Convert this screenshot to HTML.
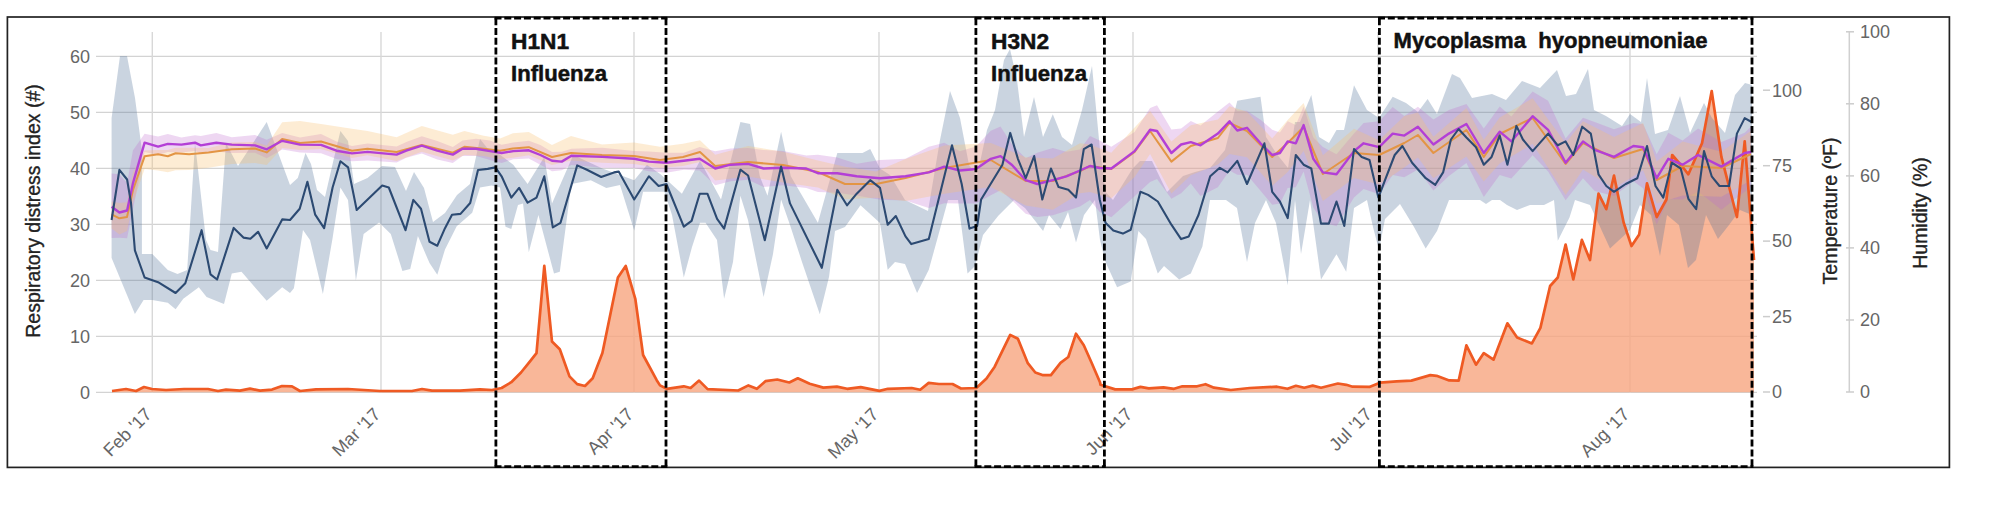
<!DOCTYPE html>
<html><head><meta charset="utf-8"><style>
html,body{margin:0;padding:0;background:#fff;width:2000px;height:516px;overflow:hidden;}
svg{display:block;font-family:"Liberation Sans",sans-serif;}
</style></head><body>
<svg width="2000" height="516" viewBox="0 0 2000 516">
<rect x="0" y="0" width="2000" height="516" fill="#fff"/>
<line x1="96" y1="392.3" x2="1757" y2="392.3" stroke="#d3d3d3" stroke-width="1.2"/>
<line x1="96" y1="336.3" x2="1757" y2="336.3" stroke="#d3d3d3" stroke-width="1.2"/>
<line x1="96" y1="280.3" x2="1757" y2="280.3" stroke="#d3d3d3" stroke-width="1.2"/>
<line x1="96" y1="224.3" x2="1757" y2="224.3" stroke="#d3d3d3" stroke-width="1.2"/>
<line x1="96" y1="168.3" x2="1757" y2="168.3" stroke="#d3d3d3" stroke-width="1.2"/>
<line x1="96" y1="112.3" x2="1757" y2="112.3" stroke="#d3d3d3" stroke-width="1.2"/>
<line x1="96" y1="56.3" x2="1757" y2="56.3" stroke="#d3d3d3" stroke-width="1.2"/>
<line x1="152.3" y1="32" x2="152.3" y2="393" stroke="#d8d8d8" stroke-width="1.4"/>
<line x1="381" y1="32" x2="381" y2="393" stroke="#d8d8d8" stroke-width="1.4"/>
<line x1="634" y1="32" x2="634" y2="393" stroke="#d8d8d8" stroke-width="1.4"/>
<line x1="879" y1="32" x2="879" y2="393" stroke="#d8d8d8" stroke-width="1.4"/>
<line x1="1133" y1="32" x2="1133" y2="393" stroke="#d8d8d8" stroke-width="1.4"/>
<line x1="1378" y1="32" x2="1378" y2="393" stroke="#d8d8d8" stroke-width="1.4"/>
<line x1="1630" y1="32" x2="1630" y2="393" stroke="#d8d8d8" stroke-width="1.4"/>
<polygon points="112.0,391.0 126.0,389.0 136.0,391.0 144.0,387.0 152.0,389.0 166.0,390.0 184.0,389.0 208.0,389.0 218.0,391.0 226.0,389.6 240.0,390.6 250.0,388.6 260.0,390.6 272.0,389.6 282.0,386.0 292.0,386.4 300.0,391.0 316.0,389.4 348.0,389.0 380.0,391.0 412.0,391.0 422.0,389.0 432.0,390.6 460.0,390.6 480.0,389.4 492.0,390.0 501.6,388.0 511.3,382.2 521.0,372.5 528.8,362.8 536.5,353.1 544.3,265.9 552.0,341.5 559.8,349.2 569.5,376.4 577.2,384.1 585.0,386.0 592.7,378.3 602.4,353.1 617.9,277.5 625.7,265.9 635.3,298.8 643.1,355.0 656.7,380.2 660.0,385.4 666.8,388.8 683.8,386.3 690.6,388.0 699.1,380.6 707.6,389.1 738.2,390.5 748.4,385.4 756.9,388.8 765.4,381.2 777.3,379.5 789.3,382.5 797.8,378.3 809.7,383.7 823.3,387.6 836.9,386.6 847.1,388.8 860.7,387.1 879.4,390.9 887.9,388.8 911.7,388.0 920.2,389.7 928.7,382.9 938.9,384.0 952.5,384.0 961.0,388.5 976.3,388.0 986.5,378.6 994.7,366.7 1010.2,334.9 1017.9,338.8 1027.6,362.8 1035.3,372.5 1043.1,375.2 1050.9,375.2 1060.5,362.8 1068.3,357.0 1076.0,333.7 1083.8,345.3 1091.6,362.8 1100.0,382.2 1100.5,384.8 1115.2,389.4 1132.0,389.4 1140.4,386.9 1148.8,388.4 1163.5,387.3 1174.0,388.8 1182.4,386.3 1197.1,386.3 1205.5,384.2 1214.0,387.7 1230.8,390.0 1249.7,388.0 1277.0,386.7 1287.5,388.8 1295.9,385.8 1304.3,387.7 1312.7,385.6 1321.1,387.7 1337.9,383.5 1346.3,384.8 1352.6,386.7 1369.4,386.9 1379.9,382.7 1396.7,381.4 1411.4,380.6 1430.3,375.1 1436.6,375.8 1449.2,380.4 1458.7,380.6 1466.4,345.3 1476.0,364.7 1483.8,353.1 1493.5,359.7 1507.4,323.3 1517.1,337.6 1531.9,343.4 1540.4,327.9 1550.1,286.0 1557.8,277.5 1565.6,244.6 1573.3,279.5 1581.9,239.9 1590.0,260.0 1598.5,193.7 1606.3,209.2 1614.0,175.5 1623.7,222.8 1631.5,246.0 1639.2,234.4 1647.0,183.3 1656.7,217.0 1666.4,199.5 1672.2,155.0 1683.8,168.5 1688.4,174.3 1702.0,143.3 1711.7,91.0 1721.4,156.9 1736.9,217.0 1744.7,141.4 1754.0,260.0 1754.0,392.3 112.0,392.3" fill="#f8a57f" fill-opacity="0.8"/>
<polygon points="111.6,240.0 111.6,118.0 120.0,56.0 127.0,56.0 135.0,98.0 141.9,150.0 141.9,254.0 152.3,254.0 167.8,270.0 177.5,274.0 187.2,270.0 195.0,143.0 206.0,240.0 210.5,250.0 218.0,252.0 226.0,143.0 238.0,166.0 266.7,122.0 290.0,185.0 297.8,178.0 305.5,153.0 311.0,164.0 317.0,190.0 325.0,197.0 332.6,164.0 340.4,131.0 348.0,141.0 354.0,184.0 367.5,178.0 382.0,166.0 395.0,167.0 406.0,191.0 414.0,172.0 424.0,188.0 433.0,222.0 445.0,213.0 457.0,195.0 470.0,184.0 480.0,139.0 488.0,149.0 495.0,151.0 513.3,164.7 527.6,184.0 544.3,156.9 552.0,203.4 573.3,155.0 602.4,168.5 634.2,180.2 647.0,164.7 660.5,174.3 681.9,193.7 700.0,160.8 721.0,199.5 740.4,122.0 750.1,124.0 759.8,176.3 767.5,195.7 781.1,131.7 790.8,176.3 817.9,222.8 837.3,153.0 862.5,153.0 870.2,149.1 880.0,168.5 890.0,175.0 905.0,200.0 928.0,211.0 940.0,140.0 950.0,91.0 960.0,118.0 969.0,165.0 977.0,176.0 987.0,130.0 995.0,110.0 1004.0,60.0 1010.0,49.0 1017.0,80.0 1024.0,137.0 1034.0,97.0 1043.0,137.0 1052.8,114.3 1062.0,137.0 1072.0,145.0 1082.0,110.0 1092.0,66.0 1100.0,150.0 1105.5,192.0 1113.0,200.0 1132.6,168.5 1140.0,161.0 1152.0,161.0 1167.0,192.0 1183.0,176.0 1195.0,172.0 1210.0,168.0 1225.0,150.0 1237.3,100.7 1260.5,96.8 1266.0,137.0 1276.0,153.0 1288.0,168.0 1295.0,122.0 1300.0,122.0 1311.3,94.9 1319.0,137.0 1329.0,143.0 1336.5,130.0 1344.0,130.0 1354.0,85.2 1367.0,110.0 1379.0,118.0 1392.7,96.8 1406.0,103.0 1418.0,112.0 1427.6,99.0 1437.0,114.0 1452.0,74.0 1460.0,78.0 1472.0,98.0 1492.0,94.0 1506.0,100.0 1522.0,81.0 1540.0,88.0 1557.0,70.0 1566.0,96.0 1576.0,94.0 1588.0,69.0 1594.0,110.0 1606.0,116.0 1622.0,126.0 1630.0,114.0 1641.0,122.0 1647.0,78.0 1655.0,134.0 1668.0,130.0 1680.0,96.0 1690.0,133.0 1704.0,103.0 1712.0,118.0 1725.0,133.0 1735.0,95.0 1745.0,83.0 1752.0,85.0 1752.0,215.0 1740.0,210.0 1729.0,225.0 1718.0,239.0 1706.0,215.0 1696.0,260.0 1688.0,268.0 1679.0,225.0 1667.0,215.0 1660.0,256.0 1651.0,215.0 1640.0,205.0 1630.0,230.0 1610.0,248.4 1590.0,205.0 1575.0,200.0 1569.5,217.4 1557.8,240.7 1554.0,200.0 1544.0,205.0 1530.0,205.0 1517.0,210.0 1507.0,205.0 1500.0,200.0 1492.0,200.0 1486.0,204.0 1480.0,200.0 1449.0,200.0 1437.0,231.0 1425.7,248.4 1414.0,227.0 1400.0,204.0 1385.0,219.0 1379.0,250.0 1373.0,227.0 1367.0,200.0 1354.0,208.0 1346.2,271.7 1336.5,254.3 1321.0,279.5 1310.0,200.0 1301.0,254.0 1295.0,200.0 1287.7,285.3 1276.0,223.0 1266.0,200.0 1255.0,223.0 1247.0,262.0 1237.0,208.0 1226.0,200.0 1210.0,200.0 1202.4,246.5 1190.8,273.6 1179.1,279.5 1164.0,266.0 1157.8,273.6 1146.0,239.0 1138.4,231.0 1130.7,281.4 1117.1,287.2 1105.5,262.0 1100.0,240.0 1095.0,200.0 1084.0,215.0 1076.0,242.6 1068.0,212.0 1060.5,229.0 1049.0,215.0 1043.1,231.0 1025.0,208.0 1014.0,200.0 998.5,215.5 983.0,234.9 975.0,266.0 967.5,273.6 958.0,200.0 948.0,200.0 938.4,234.9 928.8,269.8 917.1,293.0 905.0,264.0 895.0,262.0 887.7,269.8 880.0,223.0 860.5,205.3 845.0,227.0 835.0,231.0 829.0,277.0 819.8,314.3 802.0,262.0 790.0,225.0 781.1,199.5 773.0,254.0 763.6,296.9 748.0,220.0 740.4,195.7 733.0,262.0 724.1,298.8 717.0,240.0 705.5,222.8 700.0,222.8 692.0,247.0 683.8,277.5 672.0,215.0 664.4,191.8 643.1,191.8 634.2,230.5 620.0,185.0 606.3,188.0 590.8,180.2 571.4,184.0 559.8,271.7 554.0,273.6 538.4,215.0 528.8,252.3 523.0,203.4 518.0,205.0 511.3,229.0 505.5,226.7 500.0,187.5 491.5,185.6 480.0,187.5 472.2,212.7 456.7,226.3 445.0,249.5 437.3,274.7 429.5,263.1 417.9,236.0 410.2,269.0 402.4,270.9 390.8,234.0 379.1,222.4 363.6,234.0 355.9,280.5 348.0,200.0 340.4,187.5 332.6,238.0 322.9,294.0 310.0,240.0 303.0,230.0 293.9,288.3 290.0,293.0 282.2,287.2 266.7,300.8 241.5,271.7 231.8,273.6 224.0,303.9 206.6,296.9 198.8,287.2 183.3,298.8 175.6,309.3 167.8,302.7 152.3,300.0 143.6,300.0 134.9,314.0 111.6,258.0 111.6,240.0" fill="#4f6f99" fill-opacity="0.3"/>
<polygon points="111.6,173.5 119.4,174.2 127.1,183.1 132.9,150.5 144.6,133.7 158.1,136.6 167.8,134.0 181.4,137.4 195.0,135.2 200.8,135.9 216.3,133.1 231.8,137.2 255.0,135.1 266.7,139.8 282.2,132.9 300.0,137.4 321.0,134.1 336.5,141.4 352.0,146.0 367.5,143.5 396.6,146.5 406.3,142.0 421.8,136.2 437.3,140.9 452.8,146.9 462.5,140.5 476.0,138.7 490.0,140.5 501.6,144.8 513.3,142.6 528.8,140.8 540.4,144.9 552.0,152.0 561.7,151.8 571.4,148.7 602.4,147.8 634.2,151.1 648.9,151.4 666.4,152.8 683.8,152.7 699.7,147.0 715.2,151.2 730.7,148.6 748.1,148.1 763.6,149.9 783.0,150.9 806.3,155.5 817.9,154.7 837.3,157.6 856.7,163.8 880.0,159.9 905.5,158.7 928.8,146.7 944.3,142.7 959.8,151.2 976.0,146.5 990.8,130.8 1000.5,126.5 1012.0,144.5 1025.7,158.2 1037.3,152.7 1052.8,148.0 1066.4,151.7 1080.0,149.4 1090.0,136.1 1099.7,140.6 1111.3,146.7 1134.6,132.0 1150.1,108.1 1157.0,105.2 1171.4,129.6 1181.1,128.5 1190.8,121.0 1200.5,125.4 1217.9,111.5 1229.5,102.6 1237.3,110.8 1247.0,110.8 1260.5,119.7 1272.2,129.7 1279.9,132.5 1287.7,121.3 1295.8,125.1 1303.6,106.4 1313.3,137.6 1322.9,147.1 1336.5,154.2 1354.0,133.6 1363.6,123.1 1379.1,121.2 1392.7,107.1 1404.3,116.1 1417.9,106.8 1433.4,119.6 1448.9,110.0 1466.4,103.9 1483.8,128.5 1499.7,106.4 1511.3,116.5 1532.6,91.5 1548.1,100.7 1565.6,138.6 1583.0,117.7 1594.7,121.9 1614.0,129.2 1633.4,122.9 1643.1,124.1 1656.7,154.2 1668.3,132.7 1682.6,140.6 1698.1,128.6 1721.4,142.1 1744.7,132.7 1751.0,126.6 1751.0,187.2 1744.7,191.7 1721.4,209.8 1698.1,191.6 1682.6,199.5 1668.3,199.3 1656.7,224.6 1643.1,188.3 1633.4,181.3 1614.0,196.0 1594.7,190.9 1583.0,178.2 1565.6,200.3 1548.1,171.4 1532.6,155.3 1511.3,178.5 1499.7,175.0 1483.8,197.1 1466.4,163.0 1448.9,175.9 1433.4,190.6 1417.9,169.5 1404.3,177.3 1392.7,175.1 1379.1,194.3 1363.6,189.0 1354.0,197.6 1336.5,226.2 1322.9,222.2 1313.3,207.4 1303.6,171.6 1295.8,187.3 1287.7,188.1 1279.9,203.6 1272.2,204.7 1260.5,190.7 1247.0,174.8 1237.3,174.8 1229.5,170.4 1217.9,187.3 1200.5,195.9 1190.8,183.5 1181.1,193.2 1171.4,198.8 1157.0,179.1 1150.1,181.9 1134.6,196.2 1111.3,217.3 1099.7,211.9 1090.0,200.0 1080.0,206.6 1066.4,211.0 1052.8,215.3 1037.3,217.1 1025.7,213.7 1012.0,200.2 1000.5,190.2 990.8,195.2 976.0,203.6 959.8,203.6 944.3,203.2 928.8,208.0 905.5,200.6 880.0,199.7 856.7,195.5 837.3,192.7 817.9,192.0 806.3,187.9 783.0,185.3 763.6,187.0 748.1,179.8 730.7,181.2 715.2,185.2 699.7,170.6 683.8,169.8 666.4,172.7 648.9,171.2 634.2,167.9 602.4,167.7 571.4,165.1 561.7,170.2 552.0,171.3 540.4,164.7 528.8,158.5 513.3,159.2 501.6,163.0 490.0,160.1 476.0,156.1 462.5,155.9 452.8,162.9 437.3,159.6 421.8,153.6 406.3,157.8 396.6,162.6 367.5,160.5 352.0,161.2 336.5,158.9 321.0,153.2 300.0,152.5 282.2,149.5 266.7,158.3 255.0,152.8 231.8,152.9 216.3,151.6 200.8,153.5 195.0,150.9 181.4,152.6 167.8,152.0 158.1,155.1 144.6,152.0 132.9,209.5 127.1,238.3 119.4,237.8 111.6,237.9" fill="#c06ad0" fill-opacity="0.27"/>
<polygon points="111.6,201.5 119.4,203.1 127.0,202.2 133.0,171.9 144.6,150.4 158.1,150.1 167.8,149.9 175.6,147.8 189.1,147.8 208.5,148.0 231.8,142.5 255.0,142.1 266.7,145.6 282.2,122.3 300.0,121.1 321.0,124.0 352.0,128.8 367.5,130.9 396.6,137.3 421.8,126.0 452.8,134.7 464.4,131.0 483.8,135.8 500.0,138.4 513.0,133.3 528.8,132.0 552.0,145.1 571.0,135.9 602.0,144.5 634.0,142.4 660.0,146.7 683.0,143.7 700.0,140.2 715.2,154.8 748.0,146.0 783.0,151.7 817.9,160.5 845.0,166.8 876.0,171.6 905.5,159.1 944.3,145.5 990.8,143.1 1025.7,157.2 1052.8,158.5 1080.0,143.2 1090.0,144.5 1111.3,152.7 1134.6,127.5 1150.1,111.1 1171.4,141.6 1190.8,125.3 1217.9,119.4 1229.5,106.2 1247.0,111.7 1272.2,138.4 1287.7,120.1 1303.6,103.0 1322.9,155.2 1354.0,128.7 1379.1,140.3 1404.3,115.9 1417.9,112.6 1433.4,136.8 1466.4,108.0 1483.8,139.8 1499.7,117.6 1532.6,98.3 1565.6,143.1 1583.0,121.3 1614.0,136.9 1643.1,123.0 1656.7,161.4 1682.6,141.5 1721.4,151.7 1751.0,130.8 1751.0,180.2 1721.4,196.7 1682.6,195.4 1656.7,203.4 1643.1,170.2 1614.0,188.3 1583.0,169.5 1565.6,194.9 1532.6,143.7 1499.7,163.6 1483.8,181.6 1466.4,156.4 1433.4,178.3 1417.9,157.5 1404.3,167.6 1379.1,184.5 1354.0,178.1 1322.9,201.0 1303.6,150.9 1287.7,172.0 1272.2,185.7 1247.0,157.2 1229.5,154.1 1217.9,164.5 1190.8,175.3 1171.4,193.4 1150.1,154.1 1134.6,177.0 1111.3,198.3 1090.0,192.0 1080.0,193.3 1052.8,209.7 1025.7,205.6 990.8,187.0 944.3,193.7 905.5,201.0 876.0,197.7 845.0,199.3 817.9,187.6 783.0,182.6 748.0,176.4 715.2,180.5 700.0,162.0 683.0,166.0 660.0,167.9 634.0,164.1 602.0,162.8 571.0,160.5 552.0,165.0 528.8,155.3 513.0,157.7 500.0,159.3 483.8,155.9 464.4,155.1 452.8,160.5 421.8,151.7 396.6,161.1 367.5,155.2 352.0,158.0 321.0,149.1 300.0,149.9 282.2,148.0 266.7,165.1 255.0,162.9 231.8,164.1 208.5,167.8 189.1,170.1 175.6,170.3 167.8,172.3 158.1,170.4 144.6,168.9 133.0,202.8 127.0,230.9 119.4,234.5 111.6,228.5" fill="#f7c070" fill-opacity="0.3"/>
<polyline points="112.0,391.0 126.0,389.0 136.0,391.0 144.0,387.0 152.0,389.0 166.0,390.0 184.0,389.0 208.0,389.0 218.0,391.0 226.0,389.6 240.0,390.6 250.0,388.6 260.0,390.6 272.0,389.6 282.0,386.0 292.0,386.4 300.0,391.0 316.0,389.4 348.0,389.0 380.0,391.0 412.0,391.0 422.0,389.0 432.0,390.6 460.0,390.6 480.0,389.4 492.0,390.0 501.6,388.0 511.3,382.2 521.0,372.5 528.8,362.8 536.5,353.1 544.3,265.9 552.0,341.5 559.8,349.2 569.5,376.4 577.2,384.1 585.0,386.0 592.7,378.3 602.4,353.1 617.9,277.5 625.7,265.9 635.3,298.8 643.1,355.0 656.7,380.2 660.0,385.4 666.8,388.8 683.8,386.3 690.6,388.0 699.1,380.6 707.6,389.1 738.2,390.5 748.4,385.4 756.9,388.8 765.4,381.2 777.3,379.5 789.3,382.5 797.8,378.3 809.7,383.7 823.3,387.6 836.9,386.6 847.1,388.8 860.7,387.1 879.4,390.9 887.9,388.8 911.7,388.0 920.2,389.7 928.7,382.9 938.9,384.0 952.5,384.0 961.0,388.5 976.3,388.0 986.5,378.6 994.7,366.7 1010.2,334.9 1017.9,338.8 1027.6,362.8 1035.3,372.5 1043.1,375.2 1050.9,375.2 1060.5,362.8 1068.3,357.0 1076.0,333.7 1083.8,345.3 1091.6,362.8 1100.0,382.2 1100.5,384.8 1115.2,389.4 1132.0,389.4 1140.4,386.9 1148.8,388.4 1163.5,387.3 1174.0,388.8 1182.4,386.3 1197.1,386.3 1205.5,384.2 1214.0,387.7 1230.8,390.0 1249.7,388.0 1277.0,386.7 1287.5,388.8 1295.9,385.8 1304.3,387.7 1312.7,385.6 1321.1,387.7 1337.9,383.5 1346.3,384.8 1352.6,386.7 1369.4,386.9 1379.9,382.7 1396.7,381.4 1411.4,380.6 1430.3,375.1 1436.6,375.8 1449.2,380.4 1458.7,380.6 1466.4,345.3 1476.0,364.7 1483.8,353.1 1493.5,359.7 1507.4,323.3 1517.1,337.6 1531.9,343.4 1540.4,327.9 1550.1,286.0 1557.8,277.5 1565.6,244.6 1573.3,279.5 1581.9,239.9 1590.0,260.0 1598.5,193.7 1606.3,209.2 1614.0,175.5 1623.7,222.8 1631.5,246.0 1639.2,234.4 1647.0,183.3 1656.7,217.0 1666.4,199.5 1672.2,155.0 1683.8,168.5 1688.4,174.3 1702.0,143.3 1711.7,91.0 1721.4,156.9 1736.9,217.0 1744.7,141.4 1754.0,260.0" fill="none" stroke="#ef5a23" stroke-width="2.7" stroke-linejoin="round"/>
<polyline points="111.6,214.4 119.4,218.3 127.0,217.0 133.0,190.0 144.6,156.3 158.1,154.3 167.8,156.3 175.6,153.2 189.1,154.3 208.5,152.4 231.8,149.3 255.0,148.5 266.7,152.4 282.2,139.0 300.0,143.0 321.0,141.5 352.0,150.7 367.5,148.8 396.6,152.0 421.8,144.9 452.8,152.6 464.4,146.8 483.8,148.8 500.0,150.7 513.0,148.4 528.8,147.2 552.0,157.0 571.0,153.0 602.0,155.0 634.0,156.0 660.0,160.0 683.0,157.0 700.0,152.0 715.2,166.0 748.0,162.0 783.0,165.0 817.9,172.0 845.0,184.0 876.0,184.0 905.5,178.0 944.3,168.0 990.8,160.0 1025.7,181.0 1052.8,181.0 1080.0,171.0 1090.0,166.0 1111.3,169.0 1134.6,152.0 1150.1,131.0 1171.4,161.6 1190.8,146.0 1217.9,138.0 1229.5,123.0 1247.0,131.0 1272.2,157.0 1287.7,143.0 1303.6,127.0 1322.9,174.0 1354.0,153.0 1379.1,155.0 1404.3,143.0 1417.9,135.0 1433.4,153.0 1466.4,130.0 1483.8,157.0 1499.7,134.0 1532.6,118.0 1565.6,164.0 1583.0,143.0 1614.0,158.0 1643.1,149.0 1656.7,180.0 1682.6,166.0 1721.4,168.0 1751.0,154.0" fill="none" stroke="#e39545" stroke-width="2" stroke-linejoin="round"/>
<polyline points="111.6,206.7 119.4,212.5 127.1,210.5 132.9,183.4 144.6,142.7 158.1,146.6 167.8,143.9 181.4,144.6 195.0,142.7 200.8,145.4 216.3,142.7 231.8,144.6 255.0,145.4 266.7,149.3 282.2,140.8 300.0,144.6 321.0,144.9 336.5,150.7 352.0,153.4 367.5,151.9 396.6,154.6 406.3,150.7 421.8,145.7 437.3,150.7 452.8,154.6 462.5,148.8 476.0,148.8 490.0,151.1 501.6,153.0 513.3,151.1 528.8,150.3 540.4,155.0 552.0,160.8 561.7,161.6 571.4,155.7 602.4,156.9 634.2,158.8 648.9,161.6 666.4,162.7 683.8,160.8 699.7,158.8 715.2,168.5 730.7,164.7 748.1,163.9 763.6,168.5 783.0,167.8 806.3,168.5 817.9,173.2 837.3,173.2 856.7,176.3 880.0,178.2 905.5,176.3 928.8,172.4 944.3,166.6 959.8,170.5 976.0,169.0 990.8,158.8 1000.5,156.1 1012.0,165.0 1025.7,180.2 1037.3,184.0 1052.8,180.2 1066.4,176.3 1080.0,170.5 1090.0,166.0 1099.7,168.0 1111.3,168.5 1134.6,151.1 1150.1,129.8 1157.0,131.0 1171.4,153.0 1181.1,144.5 1190.8,142.2 1200.5,145.3 1217.9,133.6 1229.5,121.2 1237.3,130.5 1247.0,127.8 1260.5,143.3 1272.2,155.0 1279.9,153.0 1287.7,141.4 1295.8,143.3 1303.6,125.1 1313.3,158.8 1322.9,172.4 1336.5,174.3 1354.0,151.1 1363.6,143.3 1379.1,147.2 1392.7,133.6 1404.3,135.6 1417.9,126.7 1433.4,144.5 1448.9,133.6 1466.4,124.0 1483.8,153.0 1499.7,131.7 1511.3,141.4 1532.6,116.2 1548.1,129.8 1565.6,162.7 1583.0,141.4 1594.7,149.9 1614.0,156.9 1633.4,146.0 1643.1,147.2 1656.7,178.2 1668.3,158.8 1682.6,164.7 1698.1,155.0 1721.4,166.6 1744.7,153.0 1751.0,152.0" fill="none" stroke="#b33fd6" stroke-width="2.4" stroke-linejoin="round"/>
<polyline points="111.6,220.0 119.4,169.8 127.1,179.5 131.0,202.8 134.9,250.4 144.6,277.5 158.1,282.2 175.6,293.0 185.3,283.3 201.6,230.2 210.5,274.4 217.1,279.5 233.7,227.9 243.4,237.6 250.4,238.8 258.1,231.8 266.7,248.4 282.2,219.4 290.0,220.0 299.7,208.8 307.4,181.7 315.2,214.7 324.1,228.2 332.6,187.5 340.4,161.2 348.1,167.4 356.7,210.0 382.2,185.6 388.8,187.5 405.5,230.2 413.3,199.9 421.0,208.8 429.5,241.8 437.3,245.7 445.0,228.2 452.0,214.7 460.5,213.9 470.2,203.0 478.0,170.0 487.7,168.9 495.4,167.4 501.6,176.3 511.3,197.6 519.1,187.9 527.6,202.6 536.5,197.6 544.3,176.3 552.8,227.4 560.5,222.8 577.2,165.4 586.9,169.7 601.2,177.0 614.0,172.4 618.7,171.6 634.2,199.5 648.9,176.3 658.6,186.0 666.4,184.0 683.8,226.7 691.6,220.9 699.7,193.7 707.4,193.7 717.1,218.9 724.1,228.6 740.4,169.7 748.1,175.5 764.8,240.2 781.1,166.6 790.0,203.4 821.8,267.8 837.3,189.8 847.0,205.3 856.7,193.7 870.2,180.2 880.0,187.9 887.7,224.7 895.8,216.0 905.5,236.4 911.3,244.1 928.8,239.1 952.0,145.3 961.7,184.0 969.5,228.6 977.2,225.9 981.1,199.5 1002.4,164.7 1010.2,132.9 1017.9,158.8 1025.7,178.2 1034.2,156.1 1042.3,199.5 1050.9,168.5 1058.6,187.1 1068.3,189.8 1076.0,197.6 1083.8,149.1 1091.6,144.5 1099.7,199.5 1105.5,222.8 1113.3,230.5 1122.9,233.6 1130.7,229.8 1140.4,191.8 1148.1,194.9 1157.8,201.5 1171.4,224.7 1181.1,239.1 1188.8,236.4 1198.5,215.0 1210.2,176.3 1219.8,167.8 1227.6,172.4 1237.3,160.8 1247.0,184.0 1264.4,143.3 1272.2,191.8 1279.9,201.5 1287.7,218.1 1295.8,155.0 1303.6,164.7 1311.3,168.5 1321.0,223.6 1328.8,223.6 1336.5,201.5 1344.3,225.9 1354.0,149.1 1361.7,156.9 1369.5,160.0 1378.4,197.6 1385.0,180.2 1394.7,155.0 1402.4,146.0 1412.1,162.7 1425.7,178.2 1435.3,184.8 1443.1,172.4 1450.9,139.5 1458.6,129.0 1466.4,137.5 1476.0,147.2 1483.8,164.7 1491.6,156.9 1499.7,135.6 1507.4,164.7 1516.4,125.9 1522.9,139.5 1532.6,151.1 1548.1,133.6 1557.8,145.3 1565.6,141.4 1573.3,155.0 1582.2,126.7 1590.8,133.6 1598.5,174.3 1606.3,186.0 1614.0,191.8 1625.7,184.0 1637.3,178.2 1647.0,146.0 1655.5,186.0 1663.3,197.6 1671.8,162.7 1680.7,168.5 1688.4,198.8 1696.2,209.2 1704.0,151.1 1711.7,176.3 1719.5,186.0 1729.1,186.0 1736.9,133.6 1744.7,118.1 1751.6,122.0" fill="none" stroke="#2c4a72" stroke-width="2.1" stroke-linejoin="round"/>
<text x="90" y="398.7" text-anchor="end" font-family="Liberation Sans" font-size="18" fill="#666">0</text>
<text x="90" y="342.7" text-anchor="end" font-family="Liberation Sans" font-size="18" fill="#666">10</text>
<text x="90" y="286.7" text-anchor="end" font-family="Liberation Sans" font-size="18" fill="#666">20</text>
<text x="90" y="230.7" text-anchor="end" font-family="Liberation Sans" font-size="18" fill="#666">30</text>
<text x="90" y="174.7" text-anchor="end" font-family="Liberation Sans" font-size="18" fill="#666">40</text>
<text x="90" y="118.7" text-anchor="end" font-family="Liberation Sans" font-size="18" fill="#666">50</text>
<text x="90" y="62.7" text-anchor="end" font-family="Liberation Sans" font-size="18" fill="#666">60</text>
<text transform="translate(40,211) rotate(-90)" text-anchor="middle" font-family="Liberation Sans" font-size="19.5" fill="#222" stroke="#222" stroke-width="0.35">Respiratory distress index (#)</text>
<line x1="1763" y1="392.0" x2="1770" y2="392.0" stroke="#cccccc" stroke-width="1.5"/>
<text x="1772" y="398.3" font-family="Liberation Sans" font-size="18" fill="#666">0</text>
<line x1="1763" y1="316.6" x2="1770" y2="316.6" stroke="#cccccc" stroke-width="1.5"/>
<text x="1772" y="322.9" font-family="Liberation Sans" font-size="18" fill="#666">25</text>
<line x1="1763" y1="241.1" x2="1770" y2="241.1" stroke="#cccccc" stroke-width="1.5"/>
<text x="1772" y="247.4" font-family="Liberation Sans" font-size="18" fill="#666">50</text>
<line x1="1763" y1="165.7" x2="1770" y2="165.7" stroke="#cccccc" stroke-width="1.5"/>
<text x="1772" y="172.0" font-family="Liberation Sans" font-size="18" fill="#666">75</text>
<line x1="1763" y1="90.2" x2="1770" y2="90.2" stroke="#cccccc" stroke-width="1.5"/>
<text x="1772" y="96.5" font-family="Liberation Sans" font-size="18" fill="#666">100</text>
<text transform="translate(1836.5,211) rotate(-90)" text-anchor="middle" font-family="Liberation Sans" font-size="19.5" fill="#222" stroke="#222" stroke-width="0.35">Temperature (ºF)</text>
<line x1="1849.3" y1="31.8" x2="1849.3" y2="392" stroke="#d0d0d0" stroke-width="1.5"/>
<line x1="1846" y1="392.0" x2="1854" y2="392.0" stroke="#cccccc" stroke-width="1.5"/>
<text x="1860" y="398.3" font-family="Liberation Sans" font-size="18" fill="#666">0</text>
<line x1="1846" y1="320.0" x2="1854" y2="320.0" stroke="#cccccc" stroke-width="1.5"/>
<text x="1860" y="326.3" font-family="Liberation Sans" font-size="18" fill="#666">20</text>
<line x1="1846" y1="247.9" x2="1854" y2="247.9" stroke="#cccccc" stroke-width="1.5"/>
<text x="1860" y="254.2" font-family="Liberation Sans" font-size="18" fill="#666">40</text>
<line x1="1846" y1="175.9" x2="1854" y2="175.9" stroke="#cccccc" stroke-width="1.5"/>
<text x="1860" y="182.2" font-family="Liberation Sans" font-size="18" fill="#666">60</text>
<line x1="1846" y1="103.8" x2="1854" y2="103.8" stroke="#cccccc" stroke-width="1.5"/>
<text x="1860" y="110.1" font-family="Liberation Sans" font-size="18" fill="#666">80</text>
<line x1="1846" y1="31.8" x2="1854" y2="31.8" stroke="#cccccc" stroke-width="1.5"/>
<text x="1860" y="38.1" font-family="Liberation Sans" font-size="18" fill="#666">100</text>
<text transform="translate(1927,213) rotate(-90)" text-anchor="middle" font-family="Liberation Sans" font-size="19.5" fill="#222" stroke="#222" stroke-width="0.35">Humidity (%)</text>
<text transform="translate(152.8,415.5) rotate(-45)" text-anchor="end" font-family="Liberation Sans" font-size="18" fill="#666">Feb '17</text>
<text transform="translate(381.5,415.5) rotate(-45)" text-anchor="end" font-family="Liberation Sans" font-size="18" fill="#666">Mar '17</text>
<text transform="translate(634.5,415.5) rotate(-45)" text-anchor="end" font-family="Liberation Sans" font-size="18" fill="#666">Apr '17</text>
<text transform="translate(879.5,415.5) rotate(-45)" text-anchor="end" font-family="Liberation Sans" font-size="18" fill="#666">May '17</text>
<text transform="translate(1133.5,415.5) rotate(-45)" text-anchor="end" font-family="Liberation Sans" font-size="18" fill="#666">Jun '17</text>
<text transform="translate(1373,415.5) rotate(-45)" text-anchor="end" font-family="Liberation Sans" font-size="18" fill="#666">Jul '17</text>
<text transform="translate(1630.5,415.5) rotate(-45)" text-anchor="end" font-family="Liberation Sans" font-size="18" fill="#666">Aug '17</text>
<rect x="7.4" y="17" width="1942" height="450.4" fill="none" stroke="#222" stroke-width="1.7"/>
<line x1="494.5" y1="18.2" x2="667.4" y2="18.2" stroke="#000" stroke-width="2.8" stroke-dasharray="7,2.8"/>
<line x1="494.5" y1="466.6" x2="667.4" y2="466.6" stroke="#000" stroke-width="2.8" stroke-dasharray="7,2.8"/>
<line x1="495.9" y1="18.2" x2="495.9" y2="466.6" stroke="#000" stroke-width="2.8" stroke-dasharray="7,2.8"/>
<line x1="666.0" y1="18.2" x2="666.0" y2="466.6" stroke="#000" stroke-width="2.8" stroke-dasharray="7,2.8"/>
<line x1="974.5" y1="18.2" x2="1105.8" y2="18.2" stroke="#000" stroke-width="2.8" stroke-dasharray="7,2.8"/>
<line x1="974.5" y1="466.6" x2="1105.8" y2="466.6" stroke="#000" stroke-width="2.8" stroke-dasharray="7,2.8"/>
<line x1="975.9" y1="18.2" x2="975.9" y2="466.6" stroke="#000" stroke-width="2.8" stroke-dasharray="7,2.8"/>
<line x1="1104.4" y1="18.2" x2="1104.4" y2="466.6" stroke="#000" stroke-width="2.8" stroke-dasharray="7,2.8"/>
<line x1="1378.0" y1="18.2" x2="1753.4" y2="18.2" stroke="#000" stroke-width="2.8" stroke-dasharray="7,2.8"/>
<line x1="1378.0" y1="466.6" x2="1753.4" y2="466.6" stroke="#000" stroke-width="2.8" stroke-dasharray="7,2.8"/>
<line x1="1379.4" y1="18.2" x2="1379.4" y2="466.6" stroke="#000" stroke-width="2.8" stroke-dasharray="7,2.8"/>
<line x1="1752.0" y1="18.2" x2="1752.0" y2="466.6" stroke="#000" stroke-width="2.8" stroke-dasharray="7,2.8"/>
<text x="511" y="49.2" font-family="Liberation Sans" font-weight="bold" font-size="22" fill="#111" stroke="#111" stroke-width="0.5" textLength="58" lengthAdjust="spacingAndGlyphs">H1N1</text>
<text x="511" y="81" font-family="Liberation Sans" font-weight="bold" font-size="22" fill="#111" stroke="#111" stroke-width="0.5" textLength="96" lengthAdjust="spacingAndGlyphs">Influenza</text>
<text x="991" y="49.2" font-family="Liberation Sans" font-weight="bold" font-size="22" fill="#111" stroke="#111" stroke-width="0.5" textLength="58" lengthAdjust="spacingAndGlyphs">H3N2</text>
<text x="991" y="81" font-family="Liberation Sans" font-weight="bold" font-size="22" fill="#111" stroke="#111" stroke-width="0.5" textLength="96" lengthAdjust="spacingAndGlyphs">Influenza</text>
<text x="1393.5" y="48" font-family="Liberation Sans" font-weight="bold" font-size="22" fill="#111" stroke="#111" stroke-width="0.5" textLength="314" lengthAdjust="spacingAndGlyphs" xml:space="preserve">Mycoplasma  hyopneumoniae</text>
</svg>
</body></html>
